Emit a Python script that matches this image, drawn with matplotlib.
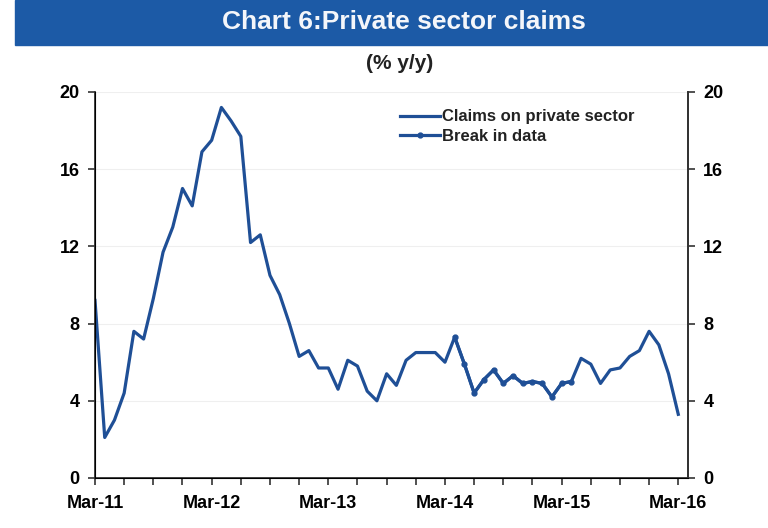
import matplotlib
matplotlib.use("Agg")
import matplotlib.pyplot as plt
from matplotlib.patches import Rectangle

plt.rcParams['font.family'] = ['Liberation Sans', 'DejaVu Sans']

# Monthly data, Mar-11 .. Mar-16
claims = [9.2, 2.1, 3.0, 4.4, 7.6, 7.2, 9.3, 11.7, 13.0, 15.0, 14.1, 16.9,
          17.5, 19.2, 18.5, 17.7, 12.2, 12.6, 10.5, 9.5, 8.0, 6.3, 6.6, 5.7,
          5.7, 4.6, 6.1, 5.8, 4.5, 4.0, 5.4, 4.8, 6.1, 6.5, 6.5, 6.5,
          6.0, 7.3, 5.9, 4.4, 5.1, 5.6, 4.9, 5.3, 4.9, 5.0, 4.9, 4.2,
          4.9, 5.0, 6.2, 5.9, 4.9, 5.6, 5.7, 6.3, 6.6, 7.6, 6.9, 5.4, 3.3]
break_start = 37
break_end = 49
year_labels = ['Mar-11', 'Mar-12', 'Mar-13', 'Mar-14', 'Mar-15', 'Mar-16']
y_ticks = [0, 4, 8, 12, 16, 20]

line_color = '#1f4f96'
banner_color = '#1c5aa6'

fig = plt.figure(figsize=(7.68, 5.28), dpi=100)

# Banner
fig.patches.append(Rectangle((15/768, 1-45/528), 1-15/768, 45/528,
                             transform=fig.transFigure, color=banner_color, zorder=0))
fig.text(404/768, 1-22/528, 'Chart 6:Private sector claims', color='#f4f6fa',
         fontsize=19, fontweight='bold', ha='center', va='center')
fig.text(400/768, 1-63/528, '(% y/y)', color='#222222', fontsize=15,
         fontweight='bold', ha='center', va='center')

ax = fig.add_axes([95/768, 1-478/528, (688-95)/768, (478-92)/528])
x = list(range(len(claims)))
ax.plot(x, claims, color=line_color, lw=2.3, label='Claims on private sector',
        solid_joinstyle='round')
xb = x[break_start:break_end+1]
yb = claims[break_start:break_end+1]
ax.plot(xb, yb, color=line_color, lw=2.3, marker='o', markersize=3.5,
        label='Break in data')

ax.set_xlim(0, 61)
ax.set_ylim(0, 20)
ax.set_yticks(y_ticks)
ax.set_yticklabels([str(v) for v in y_ticks], fontweight='bold', fontsize=13)
ax.set_xticks(range(0, 61, 3), minor=True)
ax.set_xticks(range(0, 61, 12))
ax.set_xticklabels(year_labels, fontweight='bold', fontsize=13)
ax.tick_params(axis='x', which='both', direction='out', length=5, width=1.2, color='#333333', pad=7)
ax.tick_params(axis='y', direction='out', length=5, width=1.2, color='#333333', pad=6)
ax.spines['top'].set_visible(False)
for s in ['left', 'right', 'bottom']:
    ax.spines[s].set_color('#333333')
    ax.spines[s].set_linewidth(1.3)
ax.grid(axis='y', color='#efefef', lw=0.8)
ax.set_axisbelow(True)

ax2 = ax.twinx()
ax2.set_ylim(0, 20)
ax2.set_yticks(y_ticks)
ax2.set_yticklabels([str(v) for v in y_ticks], fontweight='bold', fontsize=13)
ax2.tick_params(axis='y', direction='out', length=5, width=1.2, color='#333333', pad=6)
ax2.spines['top'].set_visible(False)
ax2.spines['right'].set_color('#333333')
ax2.spines['right'].set_linewidth(1.3)

leg = ax.legend(loc='upper left', bbox_to_anchor=(0.495, 0.985), frameon=False,
                fontsize=12, handlelength=2.4, handletextpad=0.1,
                labelspacing=0.25, borderaxespad=0.3)
for t in leg.get_texts():
    t.set_fontweight('bold')
    t.set_color('#222222')

fig.savefig('out.png', dpi=100)
